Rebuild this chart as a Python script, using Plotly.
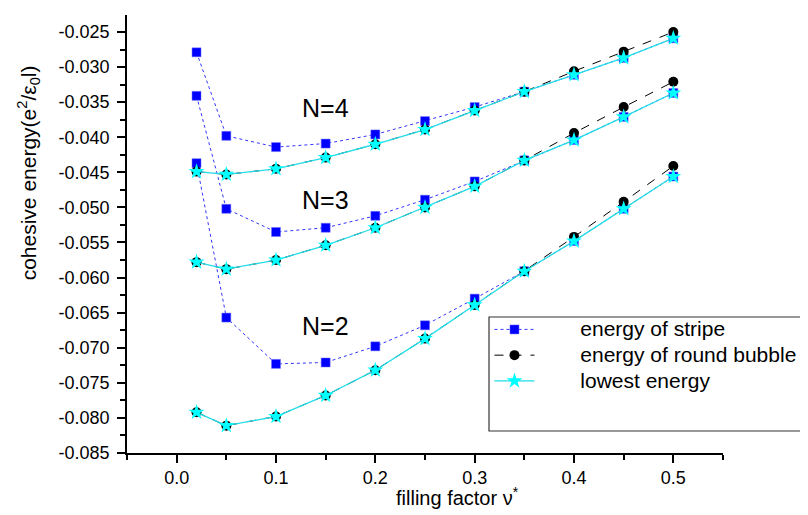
import plotly.graph_objects as go

# ---------------- data ----------------
filling = [0.02, 0.05, 0.10, 0.15, 0.20, 0.25, 0.30, 0.35, 0.40, 0.45, 0.50]

stripe_N4 = [-0.0279, -0.0398, -0.0414, -0.0409, -0.0396, -0.0377, -0.0357, -0.0335, -0.0311, -0.0287, -0.0259]
bubble_N4 = [-0.0449, -0.0453, -0.0445, -0.0429, -0.0410, -0.0389, -0.0362, -0.0335, -0.0306, -0.0278, -0.0250]
lowest_N4 = [-0.0449, -0.0453, -0.0445, -0.0429, -0.0410, -0.0389, -0.0362, -0.0335, -0.0311, -0.0287, -0.0259]

stripe_N3 = [-0.0341, -0.0502, -0.0535, -0.0529, -0.0512, -0.0489, -0.0463, -0.0433, -0.0404, -0.0371, -0.0337]
bubble_N3 = [-0.0578, -0.0588, -0.0575, -0.0554, -0.0529, -0.0500, -0.0470, -0.0433, -0.0394, -0.0357, -0.0321]
lowest_N3 = [-0.0578, -0.0588, -0.0575, -0.0554, -0.0529, -0.0500, -0.0470, -0.0433, -0.0404, -0.0371, -0.0337]

stripe_N2 = [-0.0437, -0.0657, -0.0723, -0.0721, -0.0698, -0.0668, -0.0630, -0.0591, -0.0548, -0.0502, -0.0456]
bubble_N2 = [-0.0792, -0.0811, -0.0798, -0.0768, -0.0732, -0.0687, -0.0639, -0.0591, -0.0542, -0.0492, -0.0441]
lowest_N2 = [-0.0792, -0.0811, -0.0798, -0.0768, -0.0732, -0.0687, -0.0639, -0.0591, -0.0548, -0.0502, -0.0456]

group_labels = ["N=4", "N=3", "N=2"]
label_x = [0.15, 0.15, 0.15]
label_y = [-0.0358, -0.0490, -0.0669]

x_ticks = [0.0, 0.1, 0.2, 0.3, 0.4, 0.5]
y_ticks = [-0.025, -0.030, -0.035, -0.040, -0.045, -0.050, -0.055,
           -0.060, -0.065, -0.070, -0.075, -0.080, -0.085]

series_names = ["energy of stripe", "energy of round bubble", "lowest energy"]

# ---------------- figure ----------------
FONT = "Arial, Liberation Sans, sans-serif"


def legend_label(s):
    return '<span style="font-size:21px">' + "&nbsp;" * 7 + s + "</span>"


fig = go.Figure()

stripes = [stripe_N4, stripe_N3, stripe_N2]
bubbles = [bubble_N4, bubble_N3, bubble_N2]
lowests = [lowest_N4, lowest_N3, lowest_N2]

for i, ys in enumerate(stripes):
    fig.add_trace(go.Scatter(
        x=filling, y=ys, mode="lines+markers", name=legend_label(series_names[0]),
        legendgroup="s", showlegend=(i == 0),
        line=dict(color="#3333ff", width=1, dash="dot"),
        marker=dict(symbol="square", size=9, color="#0000ff",
                    line=dict(color="#6f6fff", width=0.5)),
    ))
for i, ys in enumerate(bubbles):
    fig.add_trace(go.Scatter(
        x=filling, y=ys, mode="lines+markers", name=legend_label(series_names[1]),
        legendgroup="b", showlegend=(i == 0),
        line=dict(color="#000000", width=1, dash="dash"),
        marker=dict(symbol="circle", size=10, color="#000000"),
    ))
for i, ys in enumerate(lowests):
    fig.add_trace(go.Scatter(
        x=filling, y=ys, mode="lines+markers", name=legend_label(series_names[2]),
        legendgroup="l", showlegend=(i == 0),
        line=dict(color="#22dde8", width=1.3),
        marker=dict(symbol="star", size=12, color="#00ffff",
                    line=dict(width=0)),
    ))

for txt, lx, ly in zip(group_labels, label_x, label_y):
    fig.add_annotation(x=lx, y=ly, text=txt, showarrow=False,
                       font=dict(family=FONT, size=25, color="black"))

# axis titles as annotations
fig.add_annotation(xref="paper", yref="paper", x=0.555, y=-0.10,
                   text="filling factor ν<sup>*</sup>", showarrow=False,
                   xanchor="center", yanchor="middle",
                   font=dict(family=FONT, size=20, color="black"))
fig.add_annotation(xref="paper", yref="paper", x=-0.165, y=0.64,
                   text="cohesive energy(e<sup>2</sup>/ε<sub>0</sub>l)",
                   textangle=-90, showarrow=False,
                   xanchor="center", yanchor="middle",
                   font=dict(family=FONT, size=21, color="black"))

# legend frame
fig.add_shape(type="rect", xref="paper", yref="paper",
              x0=0.6074, x1=1.1527, y0=0.0502, y1=0.3105,
              line=dict(color="#333333", width=1.2), fillcolor="rgba(0,0,0,0)")

fig.update_layout(
    width=808, height=515,
    margin=dict(l=119, r=93, t=7, b=70, autoexpand=False),
    paper_bgcolor="white", plot_bgcolor="white",
    font=dict(family=FONT, size=18, color="black"),
    showlegend=True,
    legend=dict(x=0.6082, y=0.323, xanchor="left", yanchor="top",
                bgcolor="rgba(0,0,0,0)", borderwidth=0,
                itemwidth=40, tracegroupgap=0,
                font=dict(family=FONT, size=17.5, color="black")),
    xaxis=dict(range=[-0.05, 0.55], tickvals=x_ticks,
               ticktext=[f"{v:.1f}" for v in x_ticks],
               showgrid=False, zeroline=False, showline=True,
               linecolor="black", linewidth=1.5,
               ticks="outside", ticklen=8, tickwidth=1.5, tickcolor="black",
               minor=dict(dtick=0.05, tick0=0, ticks="outside", ticklen=5,
                          tickwidth=1.5, tickcolor="black", showgrid=False),
               tickfont=dict(family=FONT, size=18)),
    yaxis=dict(range=[-0.085, -0.02258], tickvals=y_ticks,
               ticktext=[f"{v:.3f}" for v in y_ticks],
               showgrid=False, zeroline=False, showline=True,
               linecolor="black", linewidth=1.5,
               ticks="outside", ticklen=8, tickwidth=1.5, tickcolor="black",
               ticklabelstandoff=4,
               minor=dict(dtick=0.0025, tick0=0, ticks="outside", ticklen=5,
                          tickwidth=1.5, tickcolor="black", showgrid=False),
               tickfont=dict(family=FONT, size=18)),
)

fig.write_html("out.html")
